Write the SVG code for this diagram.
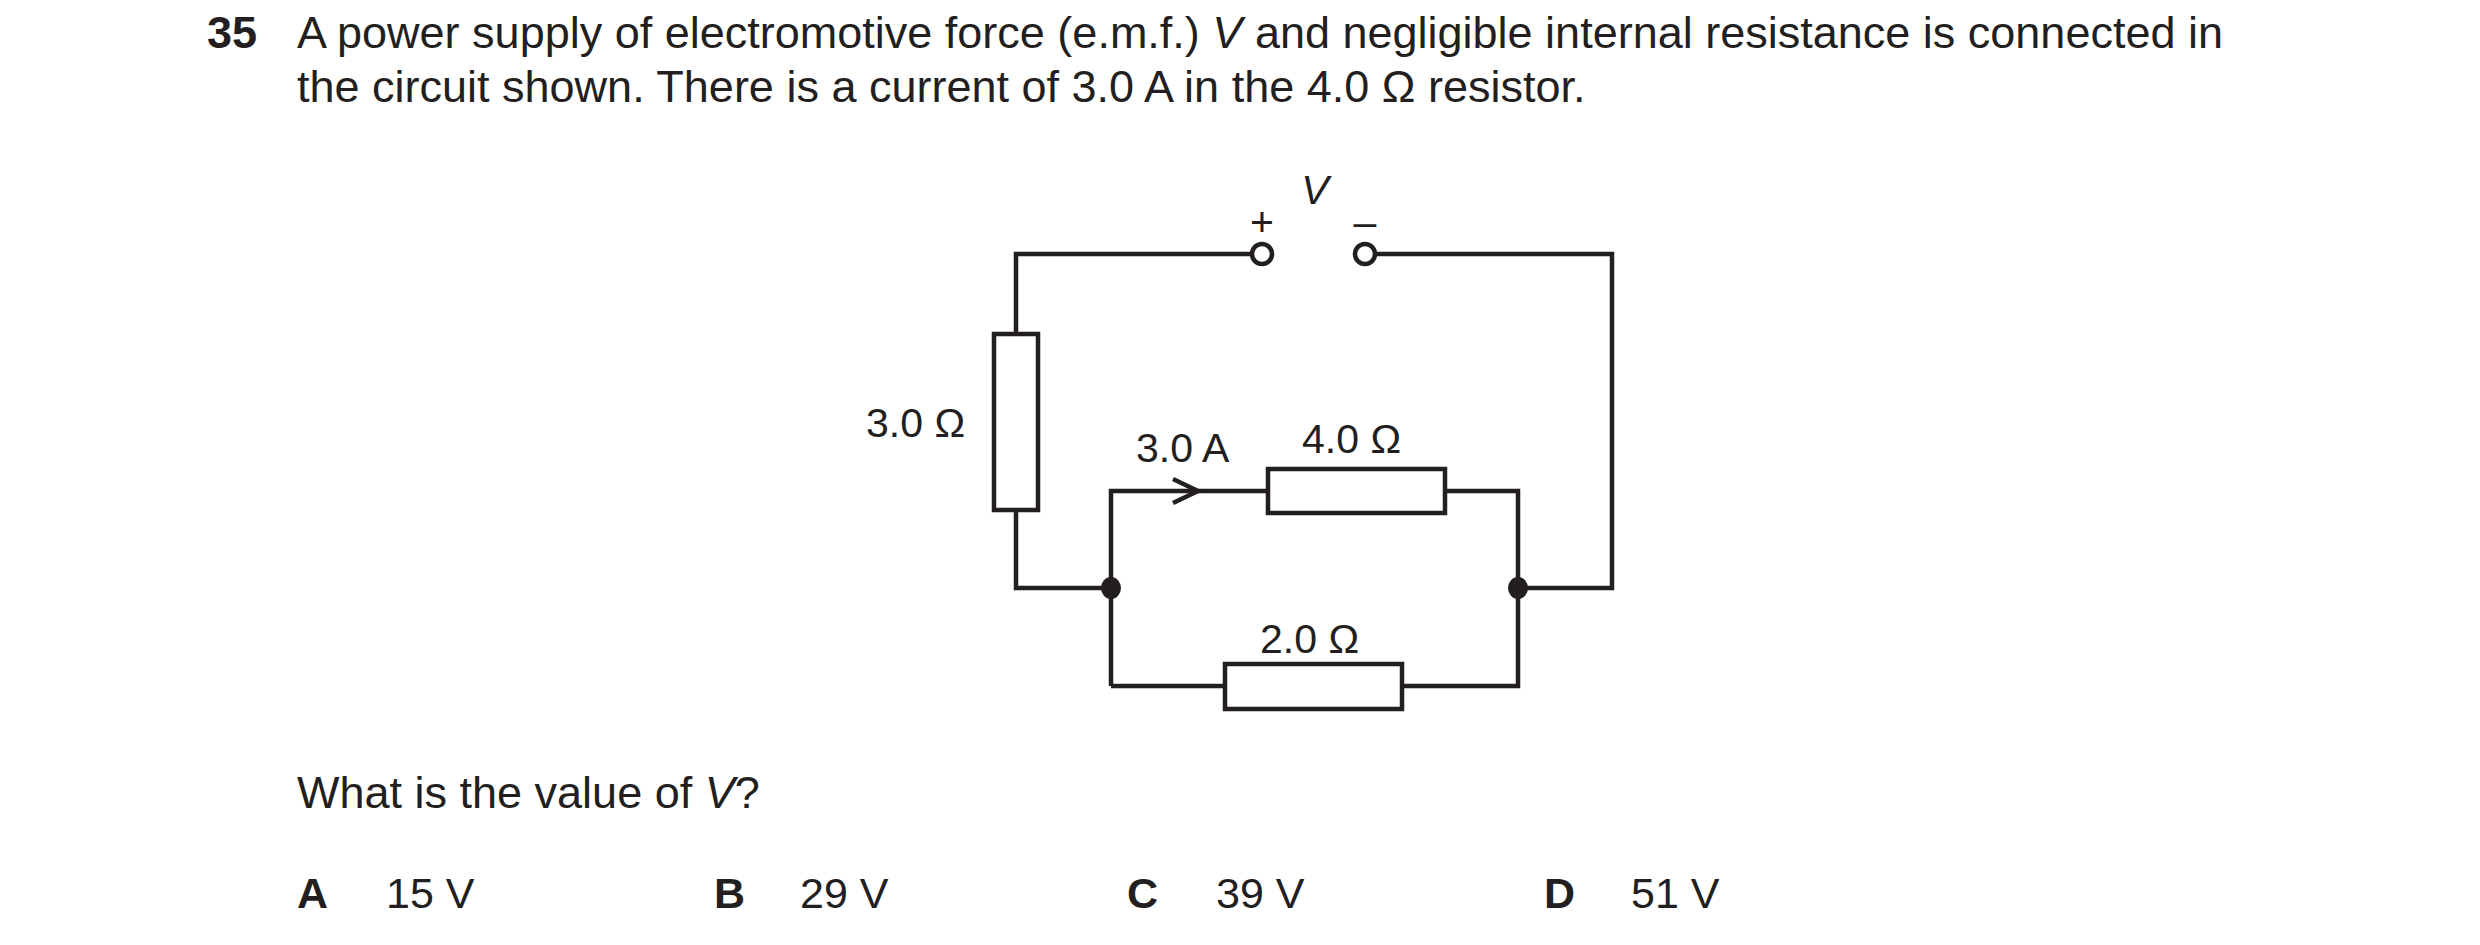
<svg xmlns="http://www.w3.org/2000/svg" width="2480" height="945" viewBox="0 0 2480 945">
<style>
text{font-family:"Liberation Sans",Arial,sans-serif;fill:#231f20}
.t{font-size:45px}
.o{font-size:43px}
.l{font-size:41px}
.w{fill:none;stroke:#231f20;stroke-width:4.5}
.r{fill:#fff;stroke:#231f20;stroke-width:4.5}
</style>
<rect width="2480" height="945" fill="#fff"/>
<text class="t" x="207" y="48" font-weight="bold">35</text>
<text class="t" x="297" y="48">A power supply of electromotive force (e.m.f.) <tspan font-style="italic">V</tspan> and negligible internal resistance is connected in</text>
<text class="t" x="297" y="102">the circuit shown. There is a current of 3.0 A in the 4.0 Ω resistor.</text>
<g transform="translate(-5,-2)">
<g id="connectors">
<polyline class="w" points="1257,256 1021,256 1021,590 1116,590"/>
<polyline class="w" points="1380,256 1617,256 1617,590 1523,590"/>
<polyline class="w" points="1116,688 1116,493 1523,493 1523,688 1116,688"/>
<polyline class="w" points="1178,481 1203,493 1178,505"/>
</g>
<g id="r3"><rect class="r" x="999" y="336" width="44" height="176"/><text class="l" x="871" y="439">3.0 Ω</text></g>
<g id="r4"><rect class="r" x="1273" y="471" width="177" height="44"/><text class="l" x="1307" y="455">4.0 Ω</text></g>
<g id="r2"><rect class="r" x="1230" y="666" width="177" height="45"/><text class="l" x="1265" y="655">2.0 Ω</text></g>
<g id="supply">
<circle class="r" cx="1267" cy="256" r="10"/>
<circle class="r" cx="1370" cy="256" r="10"/>
<text class="l" x="1267" y="238" text-anchor="middle">+</text>
<text class="l" x="1370" y="238" text-anchor="middle">–</text>
<text class="l" x="1320" y="206" text-anchor="middle" font-style="italic">V</text>
</g>
<g id="junctions"><ellipse cx="1116" cy="590" rx="10" ry="11" fill="#231f20"/><ellipse cx="1523" cy="590" rx="10" ry="11" fill="#231f20"/></g>
<text class="l" x="1141" y="464">3.0 A</text>
</g>
<text class="t" x="297" y="808">What is the value of <tspan font-style="italic">V</tspan>?</text>
<text class="o" x="297" y="908" font-weight="bold">A</text><text class="o" x="386" y="908">15 V</text>
<text class="o" x="714" y="908" font-weight="bold">B</text><text class="o" x="800" y="908">29 V</text>
<text class="o" x="1127" y="908" font-weight="bold">C</text><text class="o" x="1216" y="908">39 V</text>
<text class="o" x="1544" y="908" font-weight="bold">D</text><text class="o" x="1631" y="908">51 V</text>
</svg>
